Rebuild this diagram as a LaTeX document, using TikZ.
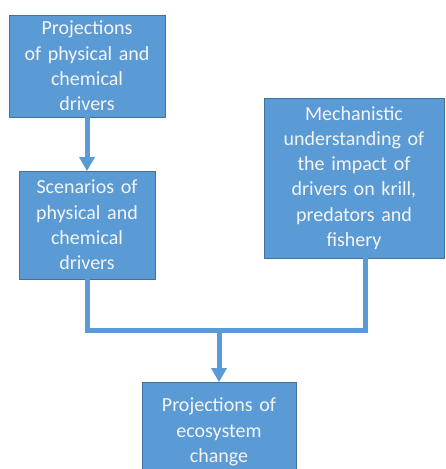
\documentclass[tikz,border=0pt]{standalone}
\usepackage{fontspec}
\setmainfont{Carlito}
\usetikzlibrary{arrows.meta,calc}
\definecolor{boxfill}{HTML}{5B9BD5}
\definecolor{boxline}{HTML}{41719C}
\definecolor{boxtext}{HTML}{F4F4F4}
\tikzset{
  flowbox/.style={draw=boxline, line width=0.8pt, fill=boxfill, text=boxtext,
    align=center, inner xsep=4pt, inner ysep=0pt,
    font=\fontsize{20}{25.3}\selectfont},
  link/.style={draw=boxfill, line width=5pt},
  linkarrow/.style={link, -{Triangle[width=15pt,length=14pt]}, shorten >=-0.5pt}
}
\begin{document}
\begin{tikzpicture}[x=1pt,y=1pt]
\useasboundingbox (0,0) rectangle (446,469);
\node[flowbox, text width=148pt, minimum height=102pt] (b1) at (87,403)
  {Projections\\of physical and\\chemical\\drivers};
\node[flowbox, text width=128pt, minimum height=108pt] (b2) at (87,244)
  {Scenarios of\\physical and\\chemical\\drivers};
\node[flowbox, text width=172pt, minimum height=160pt] (b3) at (354,291)
  {Mechanistic\\understanding of\\the impact of\\drivers on krill,\\predators and\\fishery};
\node[flowbox, text width=146pt, minimum height=100pt] (b4) at (219,37)
  {Projections of\\ecosystem\\change};
\coordinate (j) at (b4.north |- 0,138);
\draw[linkarrow] (b1.south) -- (b2.north);
\draw[link] (b2.south) |- (j) -| ($(b3.south)+(11,0)$);
\draw[linkarrow] (j) -- (b4.north);
\end{tikzpicture}
\end{document}
